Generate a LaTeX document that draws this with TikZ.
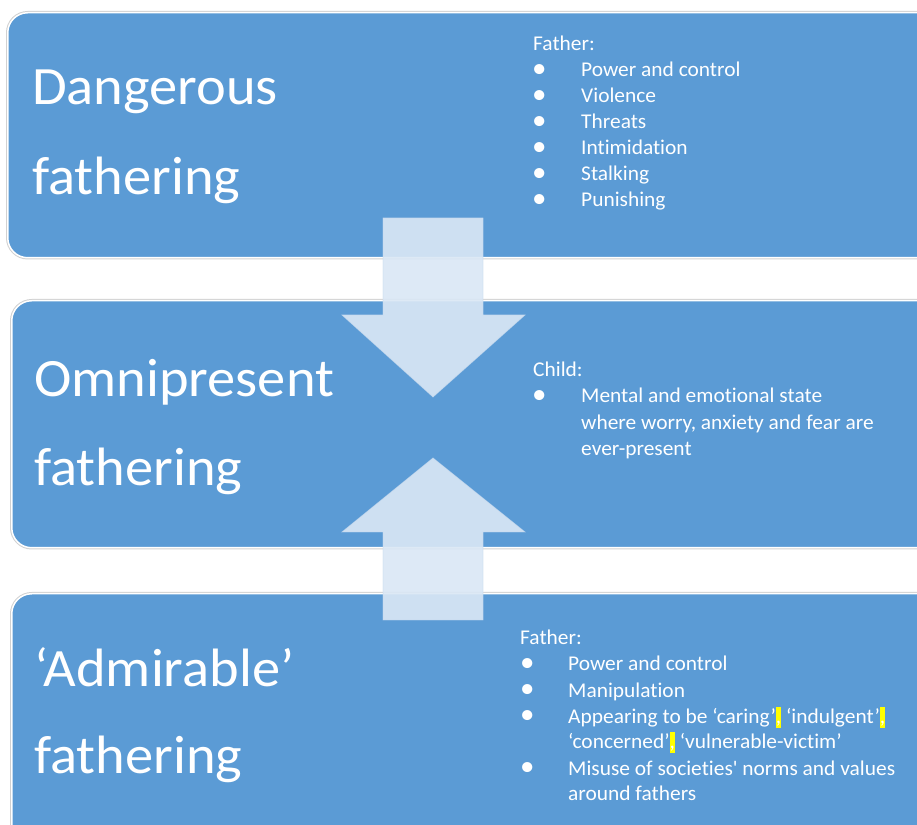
\documentclass[tikz,border=0pt]{standalone}
\usepackage{fontspec}
\usepackage{graphicx}
\setmainfont[Ligatures={TeX,NoCommon}]{Carlito}
\newfontfamily\titlefont[FakeStretch=1.045,Ligatures={TeX,NoCommon}]{Carlito}
\newfontfamily\bodyfont[FakeStretch=1.02,Ligatures={TeX,NoCommon}]{Carlito}
\definecolor{boxblue}{RGB}{91,155,213}
\definecolor{arrowfill}{RGB}{218,231,245}
\definecolor{arrowedge}{RGB}{200,218,238}
\definecolor{hlyellow}{RGB}{255,255,0}
\newcommand{\hlcomma}{{\setlength{\fboxsep}{0pt}\colorbox{hlyellow}{\rule[-0.26em]{0pt}{1.0em},}}}
\newcommand{\bigbul}{\raisebox{-0.9pt}{\scalebox{1.35}{\textbullet}}}
\begin{document}
\begin{tikzpicture}[x=1pt,y=1pt,
  panel/.style={fill=boxblue, draw=white, line width=1.5pt, rounded corners=20pt,
    preaction={draw=black!18, line width=3.5pt}, anchor=north west, inner sep=0pt},
  title/.style={text=white, font=\titlefont\fontsize{54}{54}\selectfont, anchor=base west, inner sep=0pt},
  body/.style={text=white, font=\bodyfont\fontsize{21}{26}\selectfont, anchor=base west, inner sep=0pt},
  bigarrow/.style={fill=arrowfill, fill opacity=0.91, draw=arrowedge, draw opacity=0.6, line width=0.8pt}]
\useasboundingbox (0,0) rectangle (917,824);
\clip (0,0) rectangle (917,824);
% panels
\node[panel, minimum width=935pt, minimum height=245pt] (p1) at (7,812) {};
\node[panel, minimum width=930pt, minimum height=247pt] (p2) at (11,524) {};
\node[panel, minimum width=930pt, minimum height=270pt] (p3) at (11,231) {};
% arrows
\draw[bigarrow] (383,606) -- (483,606) -- (483,509) -- (525,509) -- (433,427) -- (342,509) -- (383,509) -- cycle;
\draw[bigarrow] (383,204) -- (483,204) -- (483,292) -- (525,292) -- (433,366) -- (342,292) -- (383,292) -- cycle;
% titles
\node[title] (t1a) at (32,719) {Dangerous};
\node[title] (t1b) at (32,629) {fathering};
\node[title] (t2a) at (34,427) {Omnipresent};
\node[title] (t2b) at (34,338) {fathering};
\node[title] (t3a) at (34,137) {‘Admirable’};
\node[title] (t3b) at (34,51) {fathering};
% box 1 text
\node[body] (f1) at (533,773) {Father:};
\foreach \txt [count=\i] in {Power and control,Violence,Threats,Intimidation,Stalking,Punishing}{
  \node[body] (f1b\i) at (532,773-26*\i) {\bigbul};
  \node[body] (f1t\i) at (581,773-26*\i) {\txt};
}
% box 2 text
\node[body] (c1) at (533,447) {Child:};
\node[body] (c1b) at (532,421) {\bigbul};
\node[body] (c1t1) at (581,421) {Mental and emotional state};
\node[body] (c1t2) at (581,394) {where worry, anxiety and fear are};
\node[body] (c1t3) at (581,368) {ever-present};
% box 3 text
\node[body] (f3) at (520,179) {Father:};
\node[body] (f3b1) at (520,153) {\bigbul};
\node[body] (f3t1) at (568,153) {Power and control};
\node[body] (f3b2) at (520,127) {\bigbul};
\node[body] (f3t2) at (568,127) {Manipulation};
\node[body] (f3b3) at (520,101) {\bigbul};
\node[body] (f3t3) at (568,101) {Appearing to be ‘caring’\hlcomma{} ‘indulgent’\hlcomma};
\node[body] (f3t4) at (568,76) {‘concerned’\hlcomma{} ‘vulnerable-victim’};
\node[body] (f3b5) at (520,49) {\bigbul};
\node[body] (f3t5) at (568,49) {Misuse of societies\textquotesingle{} norms and values};
\node[body] (f3t6) at (568,24) {around fathers};
\end{tikzpicture}
\end{document}
